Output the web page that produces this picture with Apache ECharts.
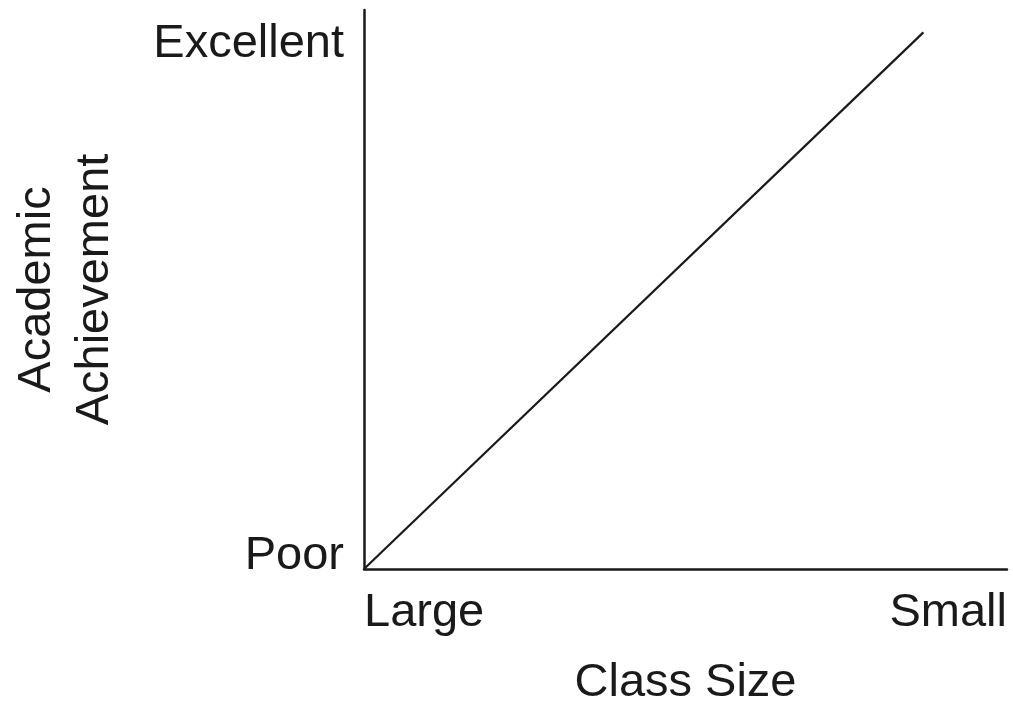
<!DOCTYPE html>
<html>
<head>
<meta charset="utf-8">
<script src="https://cdn.jsdelivr.net/npm/echarts@6/dist/echarts.min.js"></script>
<style>
  html, body { margin: 0; padding: 0; background: #fff; }
  #main { width: 1013px; height: 712px; }
</style>
</head>
<body>
<div id="main"></div>
<script>
// chart data
const xTickLabels = ['Large', 'Small'];
const yTickLabels = ['Poor', 'Excellent'];
const classSize = [0, 87];
const achievement = [0, 96];

const ink = '#1a1a1a';
const font = 'Liberation Sans';

const chartDom = document.getElementById('main');
const myChart = echarts.init(chartDom);

const option = {
    animation: false,
    grid: { left: 357, right: 6, top: 10, bottom: 141 },
    xAxis: {
        type: 'value',
        min: 0, max: 100, interval: 100,
        name: 'Class Size',
        nameLocation: 'middle',
        nameGap: 91,
        nameTextStyle: { color: ink, fontFamily: font, fontSize: 47 },
        axisLine: { lineStyle: { color: ink, width: 2.5 } },
        axisTick: { show: false },
        splitLine: { show: false },
        axisLabel: {
            color: ink, fontFamily: font, fontSize: 47,
            margin: 21,
            alignMinLabel: 'left',
            alignMaxLabel: 'right',
            formatter: v => v === 0 ? xTickLabels[0] : xTickLabels[1]
        }
    },
    yAxis: {
        type: 'value',
        min: 0, max: 100, interval: 100,
        name: 'Academic\nAchievement',
        nameLocation: 'middle',
        nameGap: 240,
        nameTextStyle: { color: ink, fontFamily: font, fontSize: 47, lineHeight: 58 },
        axisLine: { lineStyle: { color: ink, width: 2.5 } },
        axisTick: { show: false },
        splitLine: { show: false },
        axisLabel: {
            color: ink, fontFamily: font, fontSize: 47,
            margin: 20,
            formatter: v => v === 0 ? '{lo|' + yTickLabels[0] + '}' : '{hi|' + yTickLabels[1] + '}',
            rich: {
                lo: { fontFamily: font, fontSize: 47, color: ink, padding: [0, 0, 26, 0] },
                hi: { fontFamily: font, fontSize: 47, color: ink, padding: [68, 0, 0, 0] }
            }
        }
    },
    series: [{
        type: 'line',
        data: classSize.map((x, i) => [x, achievement[i]]),
        symbol: 'none',
        lineStyle: { color: ink, width: 2.2 }
    }]
};

option && myChart.setOption(option);
</script>
</body>
</html>
